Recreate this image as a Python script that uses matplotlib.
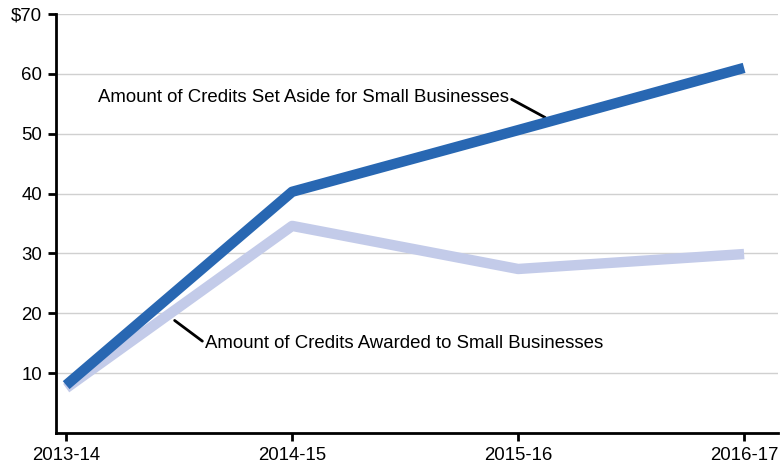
import matplotlib
matplotlib.use("Agg")
import matplotlib.pyplot as plt

years = ["2013-14", "2014-15", "2015-16", "2016-17"]
set_aside = [8.0, 40.3, 50.6, 61.0]
awarded = [7.5, 34.6, 27.4, 29.9]

plt.rcParams["font.family"] = ["Liberation Sans", "DejaVu Sans"]

fig = plt.figure(figsize=(7.8, 4.71), dpi=100)
ax = fig.add_axes([56 / 780, 1 - 433 / 471, 722 / 780, 419 / 471])

x = range(len(years))
ax.plot(x, awarded, color="#c3cbe9", lw=7.5, solid_capstyle="butt", zorder=3)
ax.plot(x, set_aside, color="#2867b2", lw=7.5, solid_capstyle="butt", zorder=4)

ax.set_ylim(0, 70)
ax.set_xlim(-0.045, 3.15)
ax.set_yticks([10, 20, 30, 40, 50, 60, 70])
ax.set_yticklabels(["10", "20", "30", "40", "50", "60", "$70"])
ax.set_xticks(list(x))
ax.set_xticklabels(years)
ax.grid(axis="y", color="#d0d0d0", lw=1)
ax.set_axisbelow(True)

for s in ["top", "right"]:
    ax.spines[s].set_visible(False)
for s in ["left", "bottom"]:
    ax.spines[s].set_linewidth(2)
ax.tick_params(axis="both", length=6, width=2, labelsize=13.4, pad=4)

ax.annotate("Amount of Credits Set Aside for Small Businesses",
            xy=(2.12, 52.7), xytext=(0.14, 56.0),
            fontsize=13.4, va="center", ha="left",
            arrowprops=dict(arrowstyle="-", color="black", lw=2,
                            shrinkA=0, shrinkB=0, relpos=(1.0, 0.5)))
ax.annotate("Amount of Credits Awarded to Small Businesses",
            xy=(0.48, 18.8), xytext=(0.615, 15.0),
            fontsize=13.4, va="center", ha="left",
            arrowprops=dict(arrowstyle="-", color="black", lw=2,
                            shrinkA=0, shrinkB=0, relpos=(0.0, 0.5)))

fig.savefig("out.png", dpi=100)
